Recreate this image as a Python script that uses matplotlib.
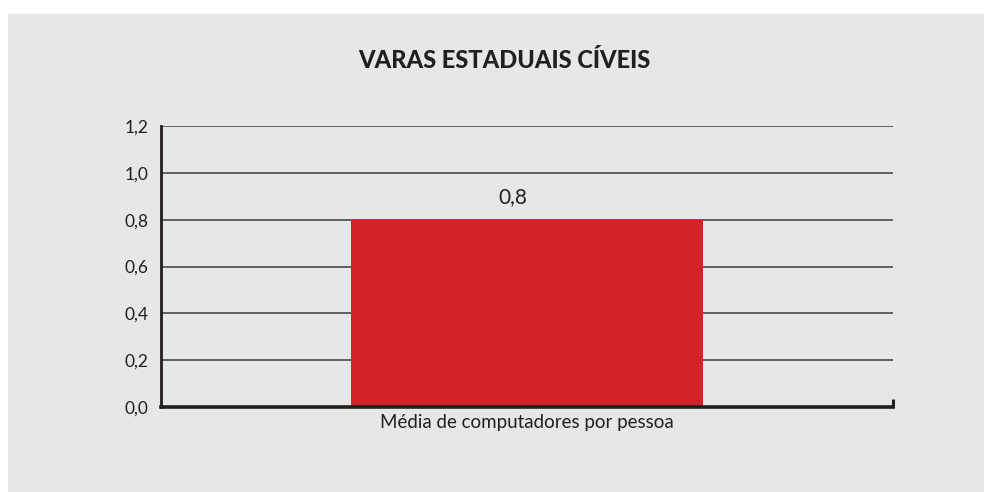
import matplotlib
matplotlib.use("Agg")
import matplotlib.pyplot as plt
from matplotlib.patches import Rectangle
from matplotlib.ticker import FuncFormatter

# --- dados ---
categorias = ["Média de computadores por pessoa"]
valores = [0.8]
rotulos = ["0,8"]
y_ticks = [0.0, 0.2, 0.4, 0.6, 0.8, 1.0, 1.2]
titulo = "VARAS ESTADUAIS CÍVEIS"

plt.rcParams['font.family'] = ['Lato', 'DejaVu Sans']

fundo = "#e6e7e8"
vermelho = "#d2232a"
escuro = "#231f20"

fig = plt.figure(figsize=(9.84, 4.92), dpi=100, facecolor="white")
# painel cinza (deixa uma faixa branca no topo e a esquerda)
fig.patches.append(Rectangle((8 / 984, 0), 1, 1 - 14 / 492,
                             transform=fig.transFigure, facecolor=fundo,
                             edgecolor="none", zorder=-10))

ax = fig.add_axes([161 / 984, 1 - 407 / 492, (893 - 161) / 984, (407 - 126) / 492])
ax.set_facecolor(fundo)

x = list(range(len(categorias)))
barras = ax.bar(x, valores, width=0.48, color=vermelho, zorder=3)
for b, r in zip(barras, rotulos):
    ax.annotate(r, (b.get_x() + b.get_width() / 2, b.get_height()),
                xytext=(-10, 9), textcoords="offset points",
                ha="center", va="bottom", fontsize=15, color=escuro)

ax.set_xlim(-0.5, 0.5)
ax.set_ylim(0, 1.2)
ax.set_yticks(y_ticks)
ax.yaxis.set_major_formatter(FuncFormatter(lambda v, p: f"{v:.1f}".replace(".", ",")))
ax.yaxis.grid(True, color="#3a3a3a", linewidth=1.1, zorder=1)
ax.set_axisbelow(True)

ax.set_xticks(x)
ax.set_xticklabels(categorias, fontsize=13.5, color=escuro)
ax.tick_params(axis="x", length=0, pad=5)
ax.tick_params(axis="y", length=0, pad=9, labelsize=12.5, labelcolor=escuro)

# pequeno traco vertical no fim do eixo x
ax.set_xticks([0.5], minor=True)
ax.tick_params(axis="x", which="minor", direction="in", length=6, width=2.2, color=escuro)

for s in ["top", "right"]:
    ax.spines[s].set_visible(False)
ax.spines["left"].set_linewidth(2)
ax.spines["left"].set_color(escuro)
ax.spines["bottom"].set_linewidth(2.6)
ax.spines["bottom"].set_color(escuro)
ax.spines["bottom"].set_zorder(4)

fig.text(504 / 984, 1 - 60 / 492, titulo, ha="center", va="center",
         fontsize=17, fontweight="black", color=escuro)

fig.savefig("out.png", dpi=100, facecolor="white")
